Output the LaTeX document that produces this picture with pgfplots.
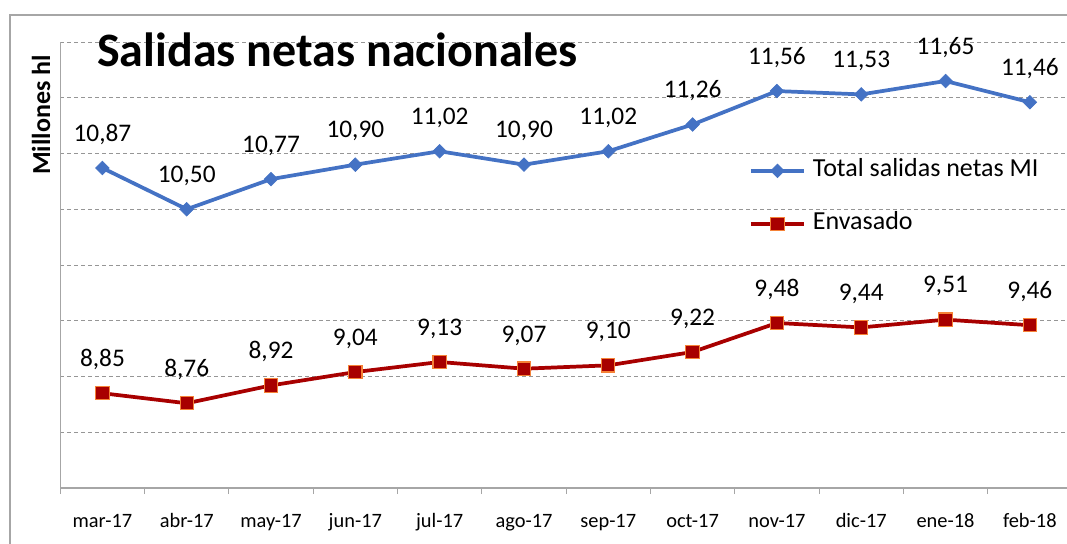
\documentclass[border=0pt]{standalone}
\usepackage{pgfplots}
\pgfplotsset{compat=1.18}
\usepackage{fontspec}
\setmainfont{Carlito}
\definecolor{blueS}{RGB}{68,114,196}
\definecolor{redS}{RGB}{168,0,0}
\definecolor{orangeS}{RGB}{245,130,55}
\definecolor{frameS}{RGB}{166,166,166}
\definecolor{gridS}{RGB}{150,150,150}
\begin{document}
\begin{tikzpicture}
\path[use as bounding box] (0,0) rectangle (800.25pt,407.25pt);
\draw[frameS, line width=0.9pt] (7.5pt,-5pt) -- (7.5pt,396pt) -- (805pt,396pt);
\begin{axis}[
  at={(45.2pt,41.25pt)}, anchor=south west, scale only axis,
  width=755pt, height=334.5pt,
  xmin=-0.5, xmax=11.44, ymin=8, ymax=12,
  clip=false,
  axis x line*=bottom, axis y line*=left,
  axis line style={draw=frameS, line width=0.8pt, -},
  xtick={0,...,11},
  xticklabels={mar-17,abr-17,may-17,jun-17,jul-17,ago-17,sep-17,oct-17,nov-17,dic-17,ene-18,feb-18},
  xticklabel style={font=\fontsize{15.3}{18}\selectfont, anchor=base, yshift=-25.3pt, inner sep=0pt},
  major x tick style={draw=none},
  minor xtick={-0.5,0.5,...,10.5},
  minor tick length=4.5pt, tick align=outside,
  minor x tick style={draw=frameS, line width=0.8pt},
  ytick={8,8.5,...,12}, yticklabels={},
  major y tick style={draw=none},
  ymajorgrids,
  major grid style={draw=gridS, dash pattern=on 3pt off 2.25pt, line width=0.6pt},
  /pgf/number format/.cd, use comma, fixed, fixed zerofill, precision=2, assume math mode=true,
  /pgfplots/.cd,
  nodes near coords,
  every node near coord/.append style={font=\fontsize{19}{22}\selectfont, anchor=base, inner sep=0pt, yshift=20pt, text=black},
  legend image code/.code={\draw[mark repeat=2,mark phase=2] plot coordinates {(0pt,0pt) (19.9pt,0pt) (39.8pt,0pt)};},
  legend cell align=left,
  legend style={at={(0.684,0.734)}, anchor=north west, draw=none, fill=none,
    font=\fontsize{19.5}{23}\selectfont, inner sep=0pt, row sep=24.75pt, column sep=5.25pt,
    nodes={inner sep=0pt, text height=12pt, text depth=3pt}},
]
\addplot[blueS, line width=2.8pt, mark=square*, mark size=3.6pt, mark options={rotate=45, fill=blueS, draw=blueS, line width=0.5pt}]
  coordinates {(0,10.87) (1,10.50) (2,10.77) (3,10.90) (4,11.02) (5,10.90) (6,11.02) (7,11.26) (8,11.56) (9,11.53) (10,11.65) (11,11.46)};
\addlegendentry{Total salidas netas MI}
\addplot[redS, line width=2.8pt, mark=square*, mark size=5pt, mark options={fill=redS, draw=orangeS, line width=0.8pt}]
  coordinates {(0,8.85) (1,8.76) (2,8.92) (3,9.04) (4,9.13) (5,9.07) (6,9.10) (7,9.22) (8,9.48) (9,9.44) (10,9.51) (11,9.46)};
\addlegendentry{Envasado}
\end{axis}
\node[anchor=base west, inner sep=0pt, font=\fontsize{36}{40}\selectfont\bfseries] at (72.75pt,357pt) {Salidas netas nacionales};
\node[rotate=90, inner sep=0pt, font=\fontsize{19.5}{23}\selectfont\bfseries] at (30.75pt,321pt) {Millones hl};
\end{tikzpicture}
\end{document}
